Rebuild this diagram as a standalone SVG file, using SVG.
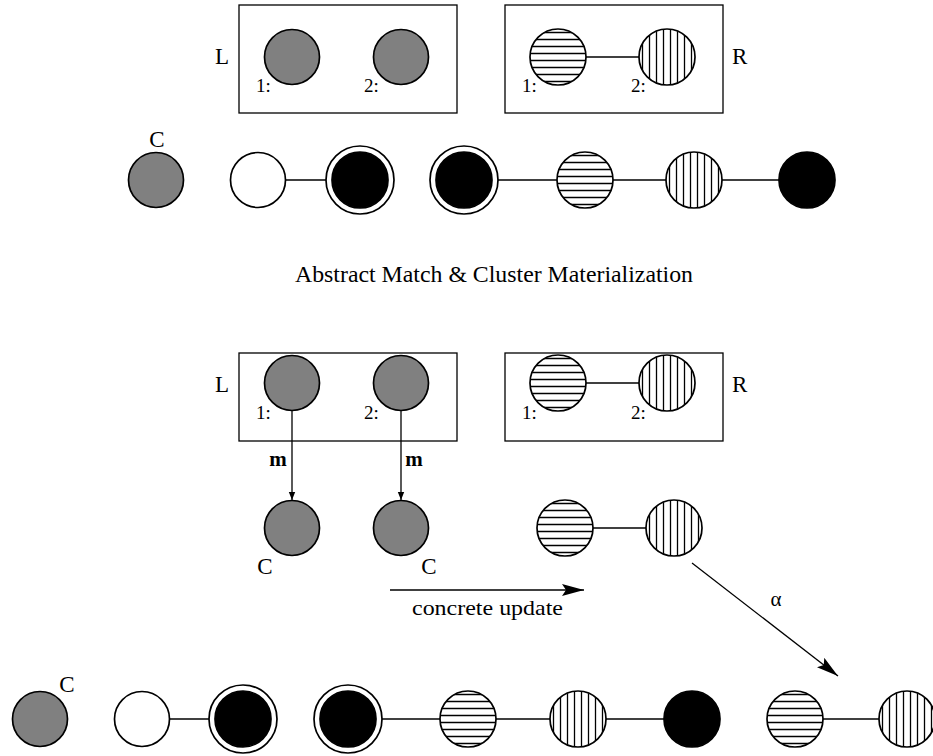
<svg xmlns="http://www.w3.org/2000/svg" width="933" height="756" viewBox="0 0 933 756">
  <style>
    text { font-family: "Liberation Serif", "Times New Roman", serif; fill: #000; }
    .lbl { font-size: 23px; }
    .idx { font-size: 19px; }
    .cap { font-size: 22.5px; }
    .note { font-size: 21px; }
    .box { fill: none; stroke: #000; stroke-width: 1.3; }
    .edge { stroke: #000; stroke-width: 1.3; fill: none; }
    .n { stroke: #000; stroke-width: 1.7; }
    .gray { fill: #808080; }
    .white { fill: #fff; }
    .black { fill: #000; }
    .hz { fill: url(#hatchH); }
    .vt { fill: url(#hatchV); }
    .ring { fill: #fff; stroke: #000; stroke-width: 1.7; }
  </style>
  <defs>
    <pattern id="hatchH" patternUnits="objectBoundingBox" width="1" height="0.125">
      <rect x="0" y="0" width="60" height="7" fill="#fff"/>
      <line x1="0" y1="3.5" x2="60" y2="3.5" stroke="#000" stroke-width="1.3"/>
    </pattern>
    <pattern id="hatchV" patternUnits="objectBoundingBox" width="0.125" height="1">
      <rect x="0" y="0" width="7" height="60" fill="#fff"/>
      <line x1="3.5" y1="0" x2="3.5" y2="60" stroke="#000" stroke-width="1.3"/>
    </pattern>
    <marker id="arrSmall" viewBox="0 0 10 10" refX="10" refY="5" markerWidth="8" markerHeight="8" markerUnits="userSpaceOnUse" orient="auto">
      <path d="M0,1 L10,5 L0,9 Z" fill="#000"/>
    </marker>
    <marker id="arrBig" viewBox="0 0 22 12" refX="22" refY="6" markerWidth="22" markerHeight="12" markerUnits="userSpaceOnUse" orient="auto">
      <path d="M0,0 L22,6 L0,12 L4,6 Z" fill="#000"/>
    </marker>
  </defs>

  <!-- connectors -->
  <g id="connectors">
    <!-- top rule R -->
    <line class="edge" x1="586" y1="57" x2="639" y2="57"/>
    <!-- top host graph -->
    <line class="edge" x1="286" y1="180" x2="326" y2="180"/>
    <line class="edge" x1="498" y1="180" x2="557" y2="180"/>
    <line class="edge" x1="613" y1="180" x2="666" y2="180"/>
    <line class="edge" x1="722" y1="180" x2="779" y2="180"/>
    <!-- bottom rule R -->
    <line class="edge" x1="586" y1="383" x2="639" y2="383"/>
    <!-- match morphism -->
    <line class="edge" x1="292" y1="411" x2="292" y2="500" marker-end="url(#arrSmall)"/>
    <line class="edge" x1="401" y1="411" x2="401" y2="500" marker-end="url(#arrSmall)"/>
    <!-- updated cluster -->
    <line class="edge" x1="593" y1="528" x2="646" y2="528"/>
    <!-- concrete update -->
    <line class="edge" x1="390" y1="590" x2="584" y2="590" marker-end="url(#arrBig)"/>
    <!-- alpha -->
    <line class="edge" x1="692" y1="563" x2="838" y2="676" marker-end="url(#arrBig)"/>
    <!-- bottom host graph -->
    <line class="edge" x1="170" y1="719" x2="209" y2="719"/>
    <line class="edge" x1="382" y1="719" x2="440" y2="719"/>
    <line class="edge" x1="496" y1="719" x2="550" y2="719"/>
    <line class="edge" x1="606" y1="719" x2="664" y2="719"/>
    <line class="edge" x1="823" y1="719" x2="879" y2="719"/>
  </g>

  <!-- top: rule L -->
  <g id="ruleL-top">
    <rect class="box" x="239" y="5" width="218" height="108"/>
    <text class="lbl" x="215" y="64">L</text>
    <circle class="n gray" cx="292" cy="57" r="27.5"/>
    <circle class="n gray" cx="401" cy="57" r="27.5"/>
    <text class="idx" x="256" y="92">1:</text>
    <text class="idx" x="364" y="92">2:</text>
  </g>

  <!-- top: rule R -->
  <g id="ruleR-top">
    <rect class="box" x="505" y="5" width="218" height="108"/>
    <text class="lbl" x="732" y="64">R</text>
    <circle class="n hz" cx="558" cy="57" r="28"/>
    <circle class="n vt" cx="667" cy="57" r="28"/>
    <text class="idx" x="522" y="92">1:</text>
    <text class="idx" x="631" y="92">2:</text>
  </g>

  <!-- top: host graph -->
  <g id="host-top">
    <text class="lbl" x="157" y="147" text-anchor="middle">C</text>
    <circle class="n gray" cx="156" cy="180" r="27.5"/>
    <circle class="n white" cx="258" cy="180" r="27.5"/>
    <circle class="ring" cx="360" cy="180" r="34"/>
    <circle class="n black" cx="360" cy="180" r="28"/>
    <circle class="ring" cx="464" cy="180" r="34"/>
    <circle class="n black" cx="464" cy="180" r="28"/>
    <circle class="n hz" cx="585" cy="180" r="28"/>
    <circle class="n vt" cx="694" cy="180" r="28"/>
    <circle class="n black" cx="807" cy="180" r="28"/>
  </g>

  <text class="cap" x="295" y="282" textLength="398" lengthAdjust="spacingAndGlyphs">Abstract Match &amp; Cluster Materialization</text>

  <!-- bottom: rule L -->
  <g id="ruleL-bottom">
    <rect class="box" x="239" y="353" width="218" height="88"/>
    <text class="lbl" x="215" y="392">L</text>
    <circle class="n gray" cx="292" cy="383" r="27.5"/>
    <circle class="n gray" cx="401" cy="383" r="27.5"/>
    <text class="idx" x="256" y="419">1:</text>
    <text class="idx" x="364" y="419">2:</text>
  </g>

  <!-- bottom: rule R -->
  <g id="ruleR-bottom">
    <rect class="box" x="505" y="353" width="218" height="88"/>
    <text class="lbl" x="732" y="392">R</text>
    <circle class="n hz" cx="558" cy="383" r="28"/>
    <circle class="n vt" cx="667" cy="383" r="28"/>
    <text class="idx" x="522" y="419">1:</text>
    <text class="idx" x="631" y="419">2:</text>
  </g>

  <!-- matched cluster -->
  <g id="match">
    <text class="note" x="278" y="466" text-anchor="middle" font-weight="bold">m</text>
    <text class="note" x="414" y="466" text-anchor="middle" font-weight="bold">m</text>
    <circle class="n gray" cx="292" cy="528" r="27.5"/>
    <circle class="n gray" cx="401" cy="528" r="27.5"/>
    <text class="lbl" x="265" y="574" text-anchor="middle">C</text>
    <text class="lbl" x="429" y="574" text-anchor="middle">C</text>
  </g>

  <!-- updated cluster -->
  <g id="update">
    <circle class="n hz" cx="565" cy="528" r="28"/>
    <circle class="n vt" cx="674" cy="528" r="28"/>
    <text class="note" x="412" y="615" textLength="151" lengthAdjust="spacingAndGlyphs">concrete update</text>
    <text class="note" x="776" y="606" text-anchor="middle" font-size="24">α</text>
  </g>

  <!-- bottom: host graph -->
  <g id="host-bottom">
    <text class="lbl" x="67" y="692" text-anchor="middle">C</text>
    <circle class="n gray" cx="40" cy="719" r="27.5"/>
    <circle class="n white" cx="142" cy="719" r="27.5"/>
    <circle class="ring" cx="243" cy="719" r="34"/>
    <circle class="n black" cx="243" cy="719" r="28"/>
    <circle class="ring" cx="348" cy="719" r="34"/>
    <circle class="n black" cx="348" cy="719" r="28"/>
    <circle class="n hz" cx="468" cy="719" r="28"/>
    <circle class="n vt" cx="578" cy="719" r="28"/>
    <circle class="n black" cx="692" cy="719" r="28"/>
    <circle class="n hz" cx="795" cy="719" r="28"/>
    <circle class="n vt" cx="907" cy="719" r="28"/>
  </g>
</svg>
